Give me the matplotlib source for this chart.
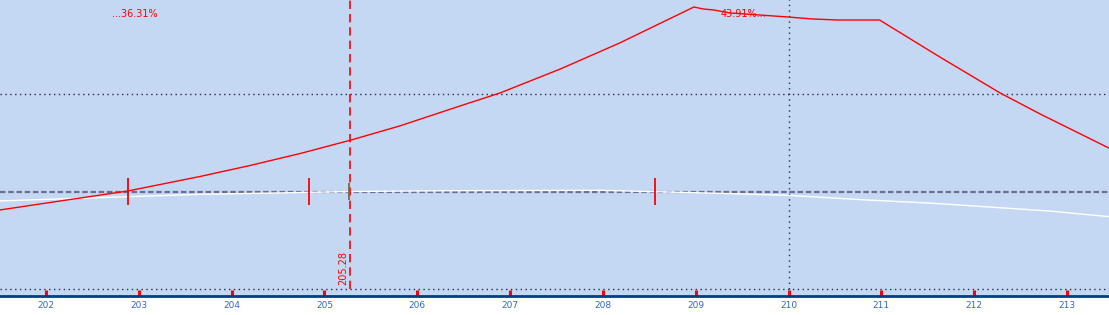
import matplotlib
matplotlib.use('Agg')
from matplotlib import pyplot as plt

# P/L curves of an options position against the underlying price
price_exp = [201.50, 202.19, 202.88, 203.66, 204.20, 204.74, 205.28, 205.81, 206.46, 206.89,
             207.54, 208.18, 208.98, 209.08, 209.19, 209.37, 209.69, 209.99, 210.25, 210.52,
             210.98, 211.63, 212.28, 212.71, 213.45]
pl_exp = [-188, -90, 7, 156, 269, 392, 528, 674, 879, 1012,
          1258, 1525, 1894, 1874, 1864, 1833, 1812, 1792, 1772, 1761,
          1761, 1381, 1012, 797, 448]

price_now = [201.50, 202.88, 203.66, 204.52, 205.28, 206.35, 207.97, 208.69, 209.40, 209.99,
             210.84, 211.56, 212.82, 213.45]
pl_now = [-95, -51, -27, -13, 2, 10, 14, -3, -21, -37, -85, -119, -199, -256]

breakeven_marks = [202.88, 204.83, 208.56]
current_mark = 205.26
current_price = 205.28
strike_line = 210
grid_levels = [1000, -1000]

label_left = '...36.31%'
label_right = '43.91%...'
xticks = list(range(202, 214))

fig = plt.figure(figsize=(11.09, 3.15), dpi=100, facecolor='white')
ax = fig.add_axes([0, 0.0603, 1, 0.9397])
ax.set_facecolor('#C4D8F4')

bg_line = '#2A2A4A'
ax.axhline(0, color='#6E6E90', linewidth=1.6, linestyle=(0, (2.5, 1.2)), zorder=2)
for lvl in grid_levels:
    ax.axhline(lvl, color=bg_line, linewidth=1.0, linestyle=(0, (1, 2.5)), zorder=1)

ax.plot([strike_line, strike_line], [-1000, 2000], color=bg_line, linewidth=1.0,
        linestyle=(0, (1, 3)), zorder=1)

ax.plot(price_now, pl_now, color='white', linewidth=1.0, zorder=3)
ax.plot(price_exp, pl_exp, color='#FF0000', linewidth=1.0, zorder=4)

ax.plot([current_price, current_price], [-1000, 2000], color='#FF0000', linewidth=1.2,
        linestyle=(0, (5, 3)), zorder=5)
ax.text(current_price - 0.02, -960, f'{current_price:.2f}', rotation=90, color='#FF0000',
        fontsize=7, ha='right', va='bottom', zorder=6)

ax.vlines(breakeven_marks, -140, 140, color='#FF0000', linewidth=1.3, zorder=5)
ax.vlines([current_mark], -90, 90, color='#7A6A40', linewidth=1.3, zorder=5)

ax.text(202.96, 1822, label_left, color='#FF0000', fontsize=7, ha='center', va='center')
ax.text(209.51, 1822, label_right, color='#FF0000', fontsize=7, ha='center', va='center',
        zorder=6)

ax.set_xlim(201.504, 213.452)
ax.set_ylim(-1070, 1966)
ax.set_xticks(xticks)
ax.set_xticklabels([str(t) for t in xticks])
ax.tick_params(axis='x', direction='in', length=4.5, width=2.2, color='#FF0000',
               labelcolor='#3366CC', labelsize=6.5, pad=3.5)
ax.set_yticks([])
for side in ['top', 'left', 'right']:
    ax.spines[side].set_visible(False)
ax.spines['bottom'].set_color('#003F7F')
ax.spines['bottom'].set_linewidth(2.0)

plt.savefig('out.png', dpi=100, facecolor='white')
